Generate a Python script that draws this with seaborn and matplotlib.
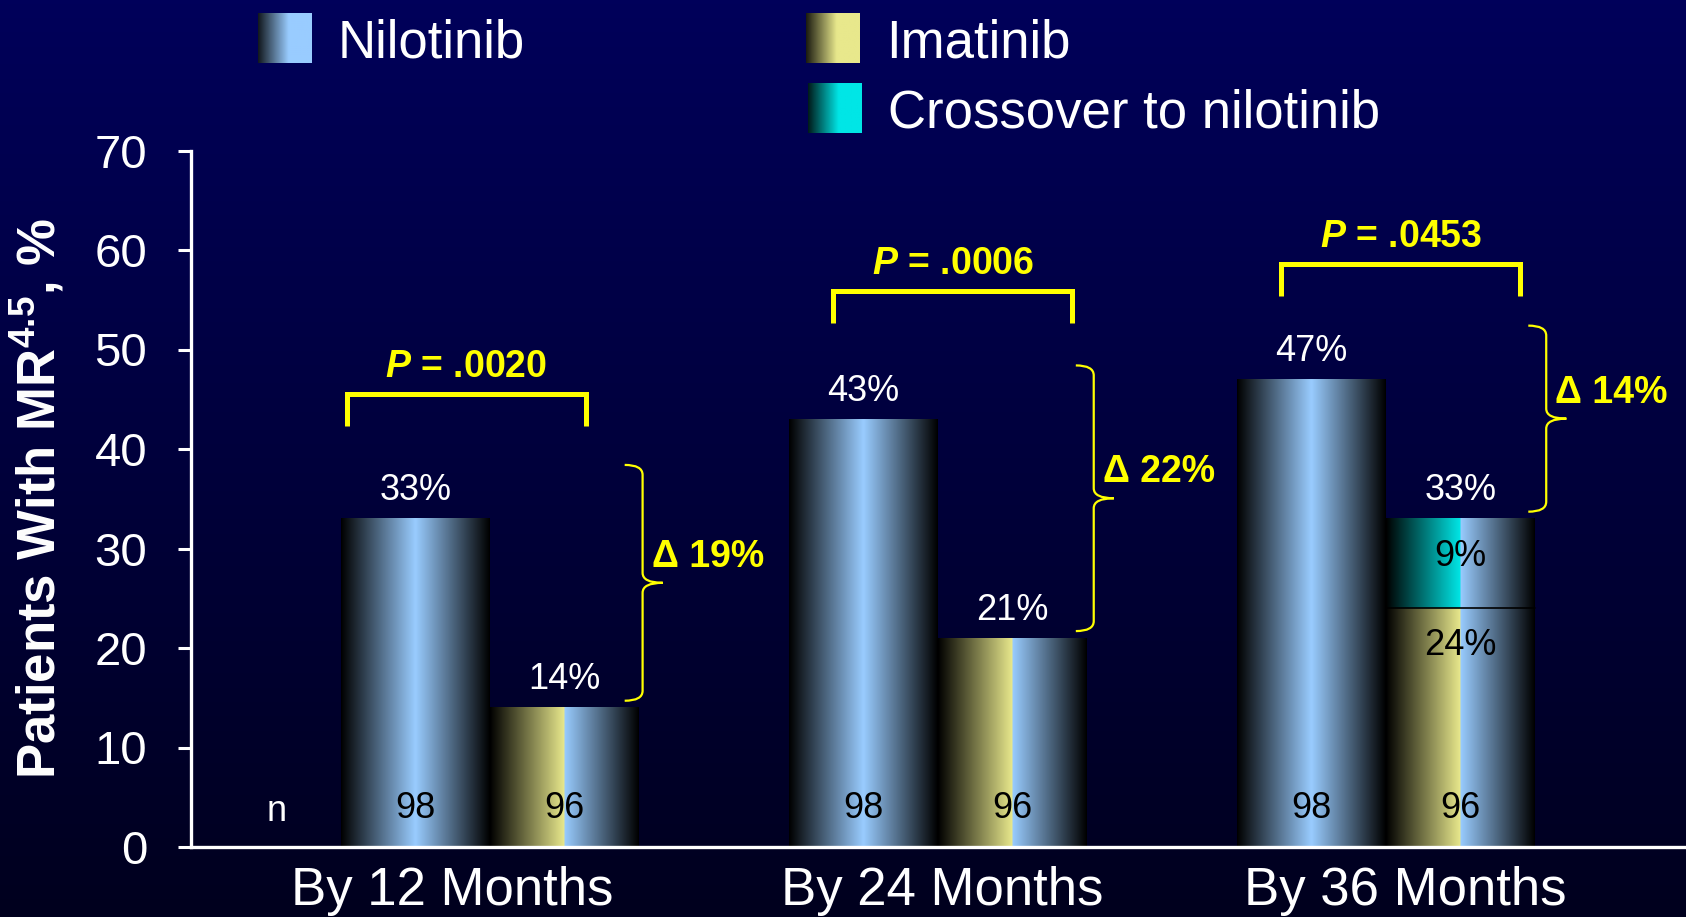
import numpy as np
import pandas as pd
import matplotlib
matplotlib.use("Agg")
import matplotlib.pyplot as plt
import seaborn as sns
from matplotlib.path import Path
from matplotlib.patches import PathPatch

# ---------------- data ----------------
timepoints = ["By 12 Months", "By 24 Months", "By 36 Months"]
arms = ["Nilotinib", "Imatinib"]
nilotinib = [33, 43, 47]
imatinib = [14, 21, 24]
crossover = [0, 0, 9]
n_nilotinib = [98, 98, 98]
n_imatinib = [96, 96, 96]
p_values = [".0020", ".0006", ".0453"]

imatinib_total = [a + c for a, c in zip(imatinib, crossover)]
deltas = [n - i for n, i in zip(nilotinib, imatinib_total)]

df = pd.DataFrame({
    "timepoint": timepoints * 2,
    "arm": [arms[0]] * 3 + [arms[1]] * 3,
    "value": nilotinib + imatinib_total,
})

# ---------------- layout / style ----------------
W, H, DPI = 1686, 917, 100
BAR_WIDTH = 0.664
bracket_span = [(-0.319, 0.214), (0.767, 1.30), (1.767, 2.30)]
bracket_top = [45.5, 55.9, 58.6]
bracket_leg = 3.2
brace_x = [0.341, 1.348, 2.358]
xtick_shift = [-0.084, 0.01, 0.043]

YELLOW = "#FFFF00"
BLUE = np.array([0x99, 0xCC, 0xFF]) / 255
GOLD = np.array([0xE8, 0xE8, 0x8C]) / 255
CYAN = np.array([0x00, 0xE6, 0xE6]) / 255
BG_TOP = np.array([0, 0, 90]) / 255
BG_BOTTOM = np.array([0, 0, 30]) / 255

sns.set_theme(style="white")
plt.rcParams.update({
    "font.family": ["Liberation Sans", "DejaVu Sans"],
    "mathtext.fontset": "custom",
    "mathtext.rm": "Liberation Sans",
    "mathtext.bf": "Liberation Sans:bold",
    "mathtext.it": "Liberation Sans:italic",
})
if "mathtext.bfit" in plt.rcParams:
    plt.rcParams["mathtext.bfit"] = "Liberation Sans:italic:bold"
    P_LABEL = r"$\mathbfit{P}$ = "
else:
    P_LABEL = "P = "


def bar_gradient(left_col, right_col, n=256):
    """Cylinder-like shading: dark edges, bright centre seam."""
    t = np.linspace(0, 1, n)
    img = np.zeros((1, n, 3))
    left = t < 0.5
    img[0, left] = np.outer(t[left] / 0.5, left_col)
    img[0, ~left] = np.outer((1 - t[~left]) / 0.5, right_col)
    return np.clip(img, 0, 1)


def swatch_gradient(col, n=64):
    t = np.linspace(0, 1, n)
    k = np.clip(0.12 + t / 0.65, 0, 1)
    return np.clip(np.outer(k, col)[None, :, :], 0, 1)


fig = plt.figure(figsize=(W / DPI, H / DPI), dpi=DPI)

# background
bg = fig.add_axes([0, 0, 1, 1], zorder=0)
s = np.linspace(0, 1, 256)[:, None]
bg_img = (BG_TOP[None, :] * (1 - s) + BG_BOTTOM[None, :] * s)[:, None, :]
bg.imshow(bg_img, aspect="auto", extent=[0, 1, 0, 1])
bg.set_axis_off()

# main chart
ax = fig.add_axes([191 / W, (H - 847) / H, 1 - 191 / W, (847 - 150.5) / H], zorder=1)
ax.patch.set_alpha(0)

sns.barplot(data=df, x="timepoint", y="value", hue="arm", order=timepoints,
            hue_order=arms, width=BAR_WIDTH, palette=["#99CCFF", "#E8E88C"],
            saturation=1, legend=False, errorbar=None, ax=ax)

XLIM = (-0.667, 2.67)
YLIM = (0, 70)
N_OFFSET = 28      # points above the baseline for the n counts
VAL_OFFSET = 20    # points above a bar top for its value label

for k, (container, arm) in enumerate(zip(ax.containers, arms)):
    for i, bar in enumerate(container):
        x0, w, h = bar.get_x(), bar.get_width(), bar.get_height()
        bar.set_facecolor("none")
        bar.set_edgecolor("none")
        cx = x0 + w / 2
        if arm == "Nilotinib":
            ax.imshow(bar_gradient(BLUE, BLUE), extent=[x0, x0 + w, 0, h],
                      aspect="auto", interpolation="bilinear", zorder=2)
            ax.annotate(f"{n_nilotinib[i]}", (cx, 0), xytext=(0, N_OFFSET),
                        textcoords="offset points", ha="center", va="center",
                        fontsize=26, color="black", zorder=5)
        else:
            base = imatinib[i]
            ax.imshow(bar_gradient(GOLD, BLUE), extent=[x0, x0 + w, 0, base],
                      aspect="auto", interpolation="bilinear", zorder=2)
            if crossover[i] > 0:
                ax.imshow(bar_gradient(CYAN, BLUE), extent=[x0, x0 + w, base, h],
                          aspect="auto", interpolation="bilinear", zorder=2)
                ax.plot([x0, x0 + w], [base, base], color="black", lw=1.2, zorder=3)
                ax.annotate(f"{base}%", (cx, base), xytext=(0, -27),
                            textcoords="offset points", ha="center", va="center",
                            fontsize=26, color="black", zorder=5)
                ax.annotate(f"{crossover[i]}%", (cx, base + crossover[i] / 2),
                            xytext=(0, 5), textcoords="offset points",
                            ha="center", va="center", fontsize=26,
                            color="black", zorder=5)
            ax.annotate(f"{n_imatinib[i]}", (cx, 0), xytext=(0, N_OFFSET),
                        textcoords="offset points", ha="center", va="center",
                        fontsize=26, color="black", zorder=5)
        ax.annotate(f"{int(round(h))}%", (cx, h), xytext=(0, VAL_OFFSET),
                    textcoords="offset points", ha="center", va="center",
                    fontsize=26, color="white", zorder=5)

ax.text(-0.475, 3.6, "n", ha="center", va="center", fontsize=26, color="white")

# P-value brackets
for i in range(3):
    xl, xr = bracket_span[i]
    yt = bracket_top[i]
    ax.plot([xl, xl, xr, xr], [yt - bracket_leg, yt, yt, yt - bracket_leg],
            color=YELLOW, lw=3.6, solid_joinstyle="miter", solid_capstyle="butt",
            zorder=4, clip_on=False)
    ax.text((xl + xr) / 2, yt + 2.7, P_LABEL + p_values[i], ha="center",
            va="center", fontsize=27, fontweight="bold", color=YELLOW)


def draw_brace(ax, x, y0, y1, arm=0.04, tip=0.045, r=1.0):
    ym = (y0 + y1) / 2
    verts = [(x - arm, y1), (x, y1), (x, y1 - r),
             (x, ym + r), (x, ym), (x + tip, ym),
             (x, ym), (x, ym - r),
             (x, y0 + r), (x, y0), (x - arm, y0)]
    codes = [Path.MOVETO, Path.CURVE3, Path.CURVE3,
             Path.LINETO, Path.CURVE3, Path.CURVE3,
             Path.CURVE3, Path.CURVE3,
             Path.LINETO, Path.CURVE3, Path.CURVE3]
    ax.add_patch(PathPatch(Path(verts, codes), fill=False, edgecolor=YELLOW,
                           lw=1.6, zorder=4, clip_on=False))
    return ym


for i in range(3):
    top = nilotinib[i] + 5.4
    bottom = imatinib_total[i] + 0.7
    ym = draw_brace(ax, brace_x[i], bottom, top)
    ax.text(brace_x[i] + 0.02, ym + 2.6, f"\u0394 {deltas[i]}%", ha="left",
            va="center", fontsize=27, fontweight="bold", color=YELLOW)

ax.set_xlim(*XLIM)
ax.set_ylim(*YLIM)
ax.set_yticks(range(0, 71, 10))
ax.set_xticks([i + d for i, d in enumerate(xtick_shift)])
ax.set_xticklabels(timepoints)
ax.set_xlabel("")
ax.set_ylabel(r"Patients With MR$^{\mathbf{4.5}}$, %", fontsize=38,
              fontweight="bold", color="white", labelpad=20)

for side in ("top", "right"):
    ax.spines[side].set_visible(False)
for side in ("left", "bottom"):
    ax.spines[side].set_color("white")
    ax.spines[side].set_linewidth(2.4)
    ax.spines[side].set_zorder(6)

ax.tick_params(axis="y", colors="white", labelcolor="white", length=9.5,
               width=2.2, pad=22, labelsize=34, left=True)
ax.tick_params(axis="x", colors="white", labelcolor="white", length=0,
               pad=14, labelsize=38)
ax.grid(False)

# legend with shaded swatches
ov = fig.add_axes([0, 0, 1, 1], zorder=3)
ov.patch.set_alpha(0)
ov.set_xlim(0, W)
ov.set_ylim(H, 0)
ov.set_axis_off()
legend_items = [
    ("Nilotinib", BLUE, 258, 13),
    ("Imatinib", GOLD, 806, 13),
    ("Crossover to nilotinib", CYAN, 808, 83),
]
for label, col, x0, y0 in legend_items:
    ov.imshow(swatch_gradient(col), extent=[x0, x0 + 54, y0 + 50, y0],
              aspect="auto", interpolation="bilinear")
    ov.text(x0 + 80, y0 + 30, label, ha="left", va="center", fontsize=38,
            color="white")
ov.set_xlim(0, W)
ov.set_ylim(H, 0)

fig.savefig("out.png", dpi=DPI, facecolor=fig.get_facecolor())
